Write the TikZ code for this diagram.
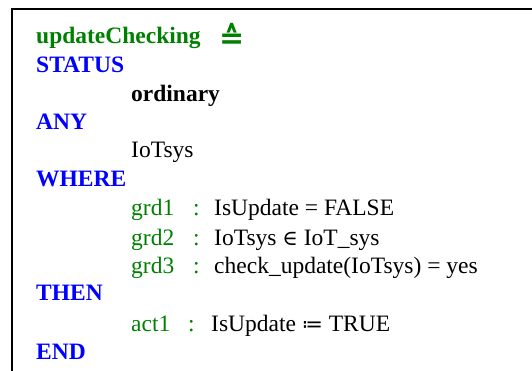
\documentclass[tikz,border=0pt]{standalone}
\usepackage{fontspec}
\setmainfont{Liberation Serif}
\newfontfamily\symsans{DejaVu Sans}
\newfontfamily\symserif{DejaVu Serif}
\newcommand{\elemof}{{\symserif\fontsize{21}{28}\selectfont ∈}}
\newcommand{\becomes}{{\symsans\fontsize{21}{28}\selectfont ≔}}
\definecolor{evgreen}{RGB}{0,128,0}
\definecolor{evblue}{RGB}{0,0,255}
\tikzset{
  txt/.style={anchor=base west, inner sep=0pt, font=\fontsize{23.5}{28}\selectfont},
  kw/.style={txt, text=evblue, font=\fontsize{23.5}{28}\selectfont\bfseries},
  lbl/.style={txt, text=evgreen},
  frame/.style={line width=2pt, draw=black}
}
\begin{document}
\begin{tikzpicture}[x=1pt,y=-1pt]
\useasboundingbox (0,0) rectangle (532,371);
% frame
\coordinate (tr) at (532,9);
\coordinate (tl) at (12,9);
\coordinate (bl) at (12,371);
\draw[frame] (tr) -- (tl) -- (bl);
% header
\node[txt, text=evgreen, font=\fontsize{23.5}{28}\selectfont\bfseries] (name) at (36,44) {updateChecking};
\node[txt, text=evgreen, font=\fontsize{30}{30}\symsans\bfseries] (defeq) at (219,49) {≙};
\node[kw] (status) at (36,73) {STATUS};
\node[txt, font=\fontsize{23.5}{28}\selectfont\bfseries] (ordinary) at (131,102) {ordinary};
\node[kw] (any) at (36,130) {ANY};
\node[txt] (param) at (131,158) {IoTsys};
\node[kw] (where) at (36,187) {WHERE};
% guards
\node[lbl] (g1) at (131,216) {grd1};
\node[lbl] (c1) at (193,216) {:};
\node[txt] (e1) at (214,216) {IsUpdate = FALSE};
\node[lbl] (g2) at (131,245) {grd2};
\node[lbl] (c2) at (193,245) {:};
\node[txt] (e2) at (214,245) {IoTsys \elemof{} IoT\_sys};
\node[lbl] (g3) at (131,273) {grd3};
\node[lbl] (c3) at (193,273) {:};
\node[txt] (e3) at (214,273) {check\_update(IoTsys) = yes};
\node[kw] (then) at (36,300) {THEN};
% action
\node[lbl] (a1) at (131,331) {act1};
\node[lbl] (ca) at (188,331) {:};
\node[txt] (ea) at (211,331) {IsUpdate \becomes{} TRUE};
\node[kw] (end) at (36,359) {END};
\end{tikzpicture}
\end{document}
